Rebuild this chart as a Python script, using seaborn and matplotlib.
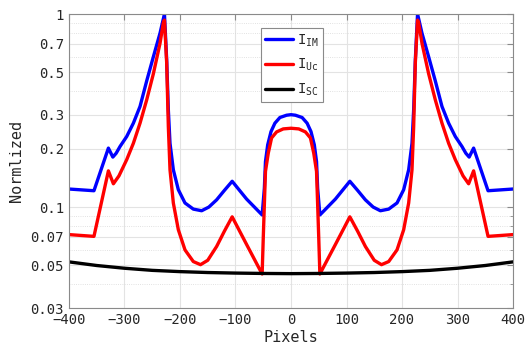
import numpy as np
import pandas as pd
import matplotlib
matplotlib.use('Agg')
import matplotlib.pyplot as plt
from matplotlib.ticker import FixedLocator, NullFormatter
import seaborn as sns

# valores
x_im = [-400, -355, -329, -321, -315, -308, -296, -284, -272, -260, -248, -236, -228, -224,
        -221, -218, -212, -203, -191, -176, -161, -148, -134, -120, -106, -80, -52, -48, -46,
        -42, -36, -29, -20, -8, 0,
        8, 20, 29, 36, 42, 46, 48, 52, 80, 106, 120, 134, 148, 161, 176, 191, 203, 212, 218,
        221, 224, 228, 236, 248, 260, 272, 284, 296, 308, 315, 321, 329, 355, 400]
y_im = [0.124, 0.1215, 0.202, 0.1815, 0.19, 0.206, 0.232, 0.272, 0.332, 0.45, 0.6, 0.795, 1.0,
        0.58, 0.319, 0.214, 0.156, 0.123, 0.105, 0.0976, 0.0957, 0.1, 0.109, 0.122, 0.136,
        0.11, 0.091, 0.125, 0.172, 0.21, 0.246, 0.272, 0.291, 0.299, 0.301,
        0.299, 0.291, 0.272, 0.246, 0.21, 0.172, 0.125, 0.091, 0.11, 0.136, 0.122, 0.109, 0.1,
        0.0957, 0.0976, 0.105, 0.123, 0.156, 0.214, 0.319, 0.58, 1.0, 0.795, 0.6, 0.45, 0.332,
        0.272, 0.232, 0.206, 0.19, 0.1815, 0.202, 0.1215, 0.124]

x_uc = [-400, -355, -329, -320, -310, -296, -284, -272, -260, -248, -236, -230, -228, -224,
        -221, -218, -212, -203, -191, -176, -163, -150, -134, -120, -106, -80, -52, -50, -48,
        -46, -41, -35, -26, -14, 0,
        14, 26, 35, 41, 46, 48, 50, 52, 80, 106, 120, 134, 150, 163, 176, 191, 203, 212, 218,
        221, 224, 228, 230, 236, 248, 260, 272, 284, 296, 310, 320, 329, 355, 400]
y_uc = [0.072, 0.0705, 0.154, 0.132, 0.145, 0.176, 0.214, 0.272, 0.359, 0.49, 0.705, 0.9, 0.93,
        0.56, 0.261, 0.156, 0.105, 0.0763, 0.06, 0.0522, 0.0503, 0.053, 0.0625, 0.075, 0.089,
        0.064, 0.045, 0.069, 0.103, 0.153, 0.19, 0.228, 0.245, 0.254, 0.256,
        0.254, 0.245, 0.228, 0.19, 0.153, 0.103, 0.069, 0.045, 0.064, 0.089, 0.075, 0.0625,
        0.053, 0.0503, 0.0522, 0.06, 0.0763, 0.105, 0.156, 0.261, 0.56, 0.93, 0.9, 0.705, 0.49,
        0.359, 0.272, 0.214, 0.176, 0.145, 0.132, 0.154, 0.0705, 0.072]

x_sc = [-400, -350, -300, -250, -200, -150, -100, -50, 0, 50, 100, 150, 200, 250, 300, 350, 400]
y_sc = [0.052, 0.0498, 0.0482, 0.047, 0.0463, 0.0458, 0.0455, 0.0453, 0.0452, 0.0453, 0.0455,
        0.0458, 0.0463, 0.047, 0.0482, 0.0498, 0.052]

lab_im = r'$\mathregular{I_{IM}}$'
lab_uc = r'$\mathregular{I_{Uc}}$'
lab_sc = r'$\mathregular{I_{SC}}$'

df = pd.concat([
    pd.DataFrame({'Pixels': x_im, 'val': y_im, 'serie': lab_im}),
    pd.DataFrame({'Pixels': x_uc, 'val': y_uc, 'serie': lab_uc}),
    pd.DataFrame({'Pixels': x_sc, 'val': y_sc, 'serie': lab_sc}),
], ignore_index=True)

sns.set_style('white')
plt.rcParams['font.family'] = ['DejaVu Sans Mono', 'DejaVu Sans']
plt.rcParams['mathtext.fontset'] = 'custom'
plt.rcParams['mathtext.rm'] = 'DejaVu Sans'

fig = plt.figure(figsize=(5.29, 3.52), dpi=100)
ax = fig.add_axes([0.1304, 0.125, 0.8394, 0.8352])

sns.lineplot(data=df, x='Pixels', y='val', hue='serie', estimator=None, sort=False,
             palette={lab_im: '#0000ff', lab_uc: '#ff0000', lab_sc: '#000000'},
             linewidth=2.4, solid_joinstyle='round', ax=ax)

ax.set_yscale('log')
ax.set_xlim(-400, 400)
ax.set_ylim(0.03, 1)
ax.set_xticks(range(-400, 401, 100))
yt = [0.03, 0.05, 0.07, 0.1, 0.2, 0.3, 0.5, 0.7, 1]
ax.yaxis.set_major_locator(FixedLocator(yt))
ax.set_yticklabels(['0.03', '0.05', '0.07', '0.1', '0.2', '0.3', '0.5', '0.7', '1'])
ax.yaxis.set_minor_locator(FixedLocator([0.04, 0.06, 0.08, 0.09, 0.4, 0.6, 0.8, 0.9]))
ax.yaxis.set_minor_formatter(NullFormatter())

ax.grid(True, which='major', color='#e3e3e3', linewidth=0.8, linestyle='-')
ax.grid(True, which='minor', axis='y', color='#d8d8d8', linewidth=0.6, linestyle=':')
ax.set_axisbelow(True)
for s in ax.spines.values():
    s.set_color('#8a8a8a')
    s.set_linewidth(0.8)
ax.tick_params(which='both', direction='in', top=True, right=True, colors='#8a8a8a',
               labelcolor='#262626', labelsize=10)
ax.tick_params(which='major', length=4)
ax.tick_params(which='minor', length=2)

ax.set_xlabel('Pixels', fontsize=11, color='#262626', labelpad=2)
ax.set_ylabel('Normlized', fontsize=11, color='#262626', labelpad=5)

leg = ax.legend(loc='upper left', bbox_to_anchor=(0.4934, 0.9205), bbox_transform=fig.transFigure,
                borderaxespad=0, fancybox=False, framealpha=1, edgecolor='#8a8a8a',
                fontsize=10, handlelength=2.0, handletextpad=0.3, labelspacing=0.6,
                borderpad=0.3, title=None)
leg.get_frame().set_linewidth(0.8)

plt.savefig('out.png', dpi=100)
